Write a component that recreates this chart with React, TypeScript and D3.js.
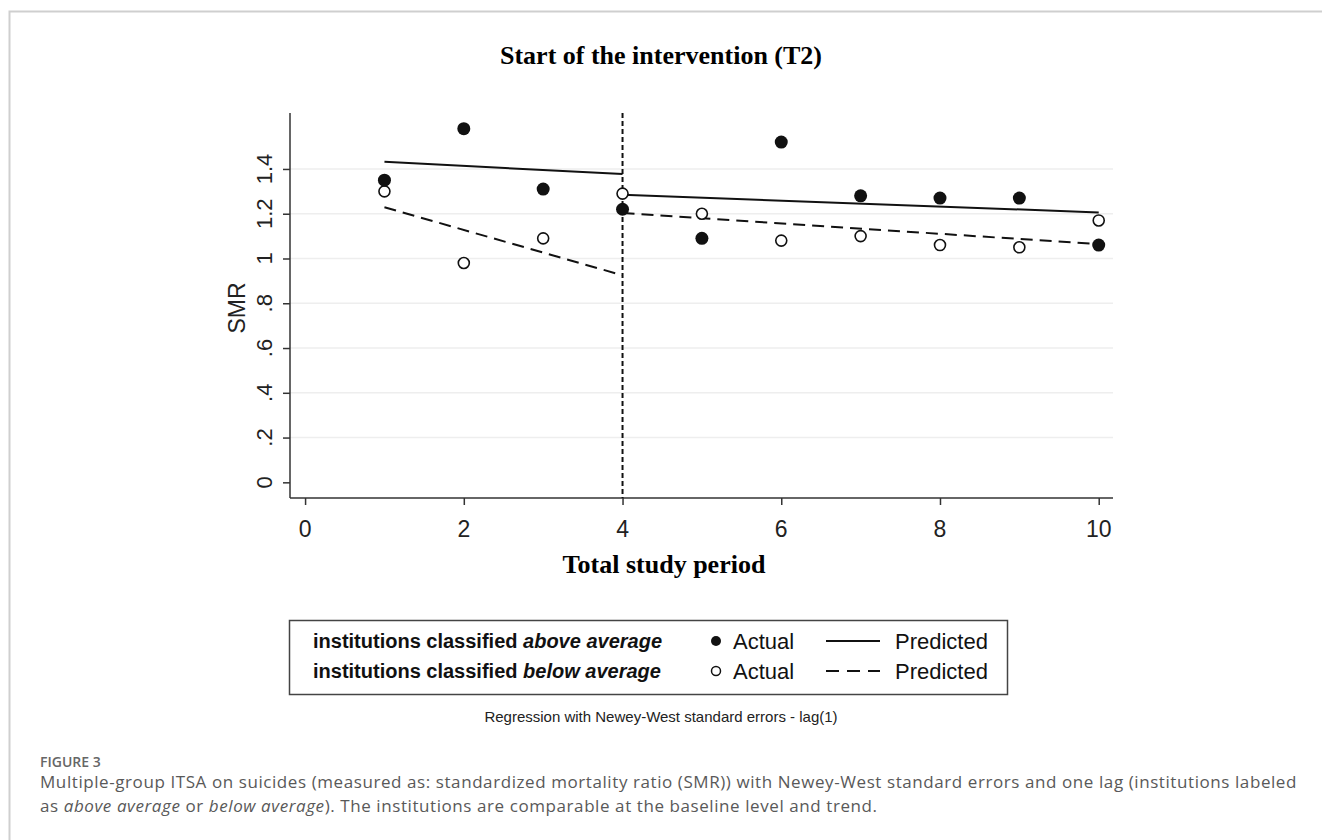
import React, { useEffect, useRef } from "react";
import * as d3 from "d3";

// values
const periods = [1, 2, 3, 4, 5, 6, 7, 8, 9, 10];
const aboveActual = [1.35, 1.58, 1.31, 1.22, 1.09, 1.52, 1.28, 1.27, 1.27, 1.06];
const belowActual = [1.3, 0.98, 1.09, 1.29, 1.2, 1.08, 1.1, 1.06, 1.05, 1.17];
// predicted segments: [period, SMR]
const abovePredPre = [[1, 1.432], [4, 1.377]];
const abovePredPost = [[4, 1.285], [10, 1.206]];
const belowPredPre = [[1, 1.229], [4, 0.925]];
const belowPredPost = [[4, 1.203], [10, 1.064]];
const interventionAt = 4;

const yTicks = [0, 0.2, 0.4, 0.6, 0.8, 1, 1.2, 1.4];
const yTickLabels = ["0", ".2", ".4", ".6", ".8", "1", "1.2", "1.4"];
const xTicks = [0, 2, 4, 6, 8, 10];

const App = () => {
  const svgRef = useRef(null);
  const W = 1322;
  const H = 840;

  useEffect(() => {
    const svg = d3.select(svgRef.current);
    svg.selectAll("*").remove();

    const plot = { left: 290, right: 1113, top: 113, bottom: 498 };
    const xScale = d3.scaleLinear().domain([-0.19, 10.18]).range([plot.left, plot.right]);
    const yScale = d3.scaleLinear().domain([-0.07, 1.65]).range([plot.bottom, plot.top]);

    const sans = "'Liberation Sans', Arial, sans-serif";
    const serif = "'Liberation Serif', 'Times New Roman', serif";

    // card frame
    svg.append("rect").attr("width", W).attr("height", H).attr("fill", "#fff");
    svg
      .append("path")
      .attr("d", `M9.5,${H} V11.5 H${W}`)
      .attr("fill", "none")
      .attr("stroke", "#cfcfcf")
      .attr("stroke-width", 2);

    // title
    svg
      .append("text")
      .attr("x", 661)
      .attr("y", 64)
      .attr("text-anchor", "middle")
      .attr("font-family", serif)
      .attr("font-weight", "bold")
      .attr("font-size", 26)
      .text("Start of the intervention (T2)");

    //// Grid
    svg
      .append("g")
      .selectAll("line")
      .data(yTicks.filter((d) => d > 0))
      .join("line")
      .attr("x1", plot.left)
      .attr("x2", plot.right)
      .attr("y1", (d) => yScale(d))
      .attr("y2", (d) => yScale(d))
      .attr("stroke", "#eeeeee")
      .attr("stroke-width", 1.5);

    //// Axes
    const yAxisG = svg
      .append("g")
      .attr("transform", `translate(${plot.left},0)`)
      .call(d3.axisLeft(yScale).tickValues(yTicks).tickSize(7).tickFormat(""));
    yAxisG.select(".domain").attr("d", `M0,${plot.top}V${plot.bottom}`);
    yAxisG.selectAll("line, path").attr("stroke", "#333").attr("stroke-width", 1.5);

    const xAxisG = svg
      .append("g")
      .attr("transform", `translate(0,${plot.bottom})`)
      .call(d3.axisBottom(xScale).tickValues(xTicks).tickSize(7).tickFormat(""));
    xAxisG.select(".domain").attr("d", `M${plot.left},0H${plot.right}`);
    xAxisG.selectAll("line, path").attr("stroke", "#333").attr("stroke-width", 1.5);

    // y tick labels (rotated, Stata style)
    svg
      .append("g")
      .selectAll("text")
      .data(yTicks)
      .join("text")
      .attr("transform", (d) => `translate(272,${yScale(d)}) rotate(-90)`)
      .attr("text-anchor", "middle")
      .attr("font-family", sans)
      .attr("font-size", 22)
      .attr("fill", "#222")
      .text((d, i) => yTickLabels[i]);

    svg
      .append("g")
      .selectAll("text")
      .data(xTicks)
      .join("text")
      .attr("x", (d) => xScale(d))
      .attr("y", 537)
      .attr("text-anchor", "middle")
      .attr("font-family", sans)
      .attr("font-size", 23)
      .attr("fill", "#222")
      .text((d) => d);

    // axis titles
    svg
      .append("text")
      .attr("transform", `translate(245,308) rotate(-90)`)
      .attr("text-anchor", "middle")
      .attr("font-family", sans)
      .attr("font-size", 23)
      .attr("fill", "#222")
      .text("SMR");

    svg
      .append("text")
      .attr("x", 664)
      .attr("y", 573)
      .attr("text-anchor", "middle")
      .attr("font-family", serif)
      .attr("font-weight", "bold")
      .attr("font-size", 26)
      .text("Total study period");

    // intervention line
    svg
      .append("line")
      .attr("x1", xScale(interventionAt))
      .attr("x2", xScale(interventionAt))
      .attr("y1", plot.top)
      .attr("y2", plot.bottom)
      .attr("stroke", "#111")
      .attr("stroke-width", 2)
      .attr("stroke-dasharray", "5,3");

    //// Predicted lines
    const line = d3
      .line()
      .x((d) => xScale(d[0]))
      .y((d) => yScale(d[1]));

    [abovePredPre, abovePredPost].forEach((seg) => {
      svg
        .append("path")
        .datum(seg)
        .attr("fill", "none")
        .attr("stroke", "#111")
        .attr("stroke-width", 2)
        .attr("d", line);
    });
    [belowPredPre, belowPredPost].forEach((seg) => {
      svg
        .append("path")
        .datum(seg)
        .attr("fill", "none")
        .attr("stroke", "#111")
        .attr("stroke-width", 2)
        .attr("stroke-dasharray", "12,7")
        .attr("d", line);
    });

    //// Actual points
    svg
      .append("g")
      .selectAll("circle")
      .data(periods)
      .join("circle")
      .attr("cx", (d) => xScale(d))
      .attr("cy", (d, i) => yScale(belowActual[i]))
      .attr("r", 5.5)
      .attr("fill", "#fff")
      .attr("stroke", "#111")
      .attr("stroke-width", 1.6);

    svg
      .append("g")
      .selectAll("circle")
      .data(periods)
      .join("circle")
      .attr("cx", (d) => xScale(d))
      .attr("cy", (d, i) => yScale(aboveActual[i]))
      .attr("r", 6.5)
      .attr("fill", "#111");

    //// Legend
    const lg = svg.append("g");
    lg.append("rect")
      .attr("x", 289.5)
      .attr("y", 620.5)
      .attr("width", 718)
      .attr("height", 74)
      .attr("fill", "#fff")
      .attr("stroke", "#444")
      .attr("stroke-width", 1.5);

    const rows = [
      { y: 649, word: "above average", filled: true, dash: null },
      { y: 679, word: "below average", filled: false, dash: "13,8" },
    ];
    rows.forEach((r) => {
      const t = lg
        .append("text")
        .attr("x", 313)
        .attr("y", r.y - 1)
        .attr("font-family", sans)
        .attr("font-weight", "bold")
        .attr("font-size", 20)
        .attr("fill", "#111");
      t.append("tspan").text("institutions classified ");
      t.append("tspan").attr("font-style", "italic").text(r.word);

      lg.append("circle")
        .attr("cx", 716)
        .attr("cy", r.y - 8)
        .attr("r", r.filled ? 5 : 4.5)
        .attr("fill", r.filled ? "#111" : "#fff")
        .attr("stroke", "#111")
        .attr("stroke-width", r.filled ? 0 : 1.5);
      lg.append("text")
        .attr("x", 733)
        .attr("y", r.y)
        .attr("font-family", sans)
        .attr("font-size", 22)
        .attr("fill", "#111")
        .text("Actual");

      lg.append("line")
        .attr("x1", 826)
        .attr("x2", 880)
        .attr("y1", r.y - 8)
        .attr("y2", r.y - 8)
        .attr("stroke", "#111")
        .attr("stroke-width", 2)
        .attr("stroke-dasharray", r.dash);
      lg.append("text")
        .attr("x", 895)
        .attr("y", r.y)
        .attr("font-family", sans)
        .attr("font-size", 22)
        .attr("fill", "#111")
        .text("Predicted");
    });

    svg
      .append("text")
      .attr("x", 661)
      .attr("y", 722)
      .attr("text-anchor", "middle")
      .attr("font-family", sans)
      .attr("font-size", 15)
      .attr("fill", "#222")
      .text("Regression with Newey-West standard errors - lag(1)");

    //// Caption
    svg
      .append("text")
      .attr("x", 40)
      .attr("y", 767)
      .attr("font-family", "'Open Sans', sans-serif")
      .attr("font-weight", 600)
      .attr("font-size", 14)
      .attr("fill", "#666")
      .text("FIGURE 3");

    const cap1 = svg
      .append("text")
      .attr("x", 40)
      .attr("y", 788)
      .attr("font-family", "'Open Sans', sans-serif")
      .attr("font-size", 17)
      .attr("letter-spacing", 0.58)
      .attr("fill", "#595959");
    cap1.text(
      "Multiple-group ITSA on suicides (measured as: standardized mortality ratio (SMR)) with Newey-West standard errors and one lag (institutions labeled"
    );

    const cap2 = svg
      .append("text")
      .attr("x", 40)
      .attr("y", 812)
      .attr("font-family", "'Open Sans', sans-serif")
      .attr("font-size", 17)
      .attr("letter-spacing", 0.58)
      .attr("fill", "#595959");
    cap2.append("tspan").text("as ");
    cap2.append("tspan").attr("font-style", "italic").text("above average");
    cap2.append("tspan").text(" or ");
    cap2.append("tspan").attr("font-style", "italic").text("below average");
    cap2.append("tspan").text("). The institutions are comparable at the baseline level and trend.");
  }, []);

  return (
    <div style={{ position: "absolute", left: 0, top: 0 }}>
      <svg ref={svgRef} width={W} height={H} style={{ display: "block" }}></svg>
    </div>
  );
};

export default App;
